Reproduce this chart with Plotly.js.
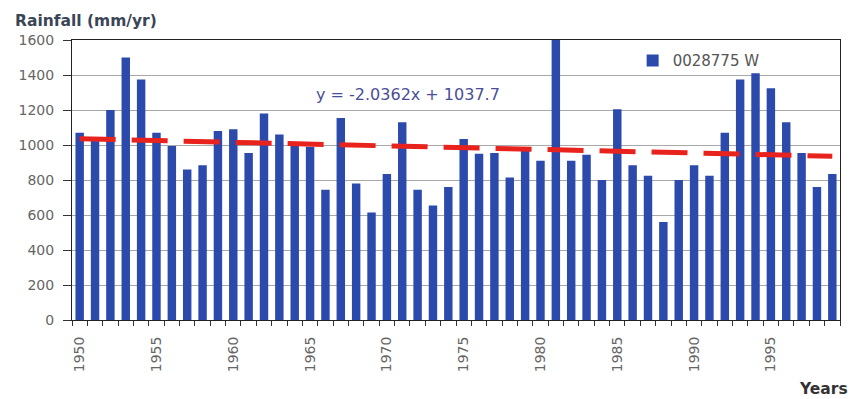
<!DOCTYPE html>
<html>
<head>
<meta charset="utf-8">
<script src="https://cdn.plot.ly/plotly-3.0.1.min.js"></script>
<style>
  html, body { margin: 0; padding: 0; background: #fff; }
  #chart { width: 852px; height: 399px; }
</style>
</head>
<body>
<div id="chart"></div>
<script>
// Annual rainfall at station 0028775 W, 1950-1999 (mm/yr)
const years = [
  1950, 1951, 1952, 1953, 1954, 1955, 1956, 1957, 1958, 1959,
  1960, 1961, 1962, 1963, 1964, 1965, 1966, 1967, 1968, 1969,
  1970, 1971, 1972, 1973, 1974, 1975, 1976, 1977, 1978, 1979,
  1980, 1981, 1982, 1983, 1984, 1985, 1986, 1987, 1988, 1989,
  1990, 1991, 1992, 1993, 1994, 1995, 1996, 1997, 1998, 1999
];
const rainfall = [
  1070, 1030, 1200, 1500, 1375, 1070, 995, 860, 885, 1080,
  1090, 955, 1180, 1060, 1000, 990, 745, 1155, 780, 615,
  835, 1130, 745, 655, 760, 1035, 950, 955, 815, 980,
  910, 1600, 910, 945, 800, 1205, 885, 825, 560, 800,
  885, 825, 1070, 1375, 1410, 1325, 1130, 955, 760, 835
];
const tickYears = [1950, 1955, 1960, 1965, 1970, 1975, 1980, 1985, 1990, 1995];
const tickLabels = ['1950', '1955', '1960', '1965', '1970', '1975', '1980', '1985', '1990', '1995'];

// Linear trend as labelled on the chart: y = slope * n + intercept, n = 1..N
const slope = -2.0362;
const intercept = 1037.7;
const trendX = [years[0], years[years.length - 1]];
const trendY = [slope * 1 + intercept, slope * years.length + intercept];

const FONT = '"DejaVu Sans", Verdana, sans-serif';

const bars = {
  type: 'bar',
  x: years,
  y: rainfall,
  name: '0028775 W',
  marker: { color: '#2b4aac' },
  width: 0.55,
  hoverinfo: 'x+y'
};

const trend = {
  type: 'scatter',
  mode: 'lines',
  x: trendX,
  y: trendY,
  xaxis: 'x2',
  yaxis: 'y',
  line: { color: '#e8221c', width: 5, dash: '36px,16px' },
  showlegend: false,
  hoverinfo: 'skip'
};

const layout = {
  width: 852,
  height: 399,
  margin: { l: 72, r: 12, t: 40, b: 79 },
  paper_bgcolor: '#ffffff',
  plot_bgcolor: '#ffffff',
  font: { family: FONT, size: 14, color: '#666' },
  showlegend: true,
  legend: {
    x: 0.73, y: 0.985, xanchor: 'left', yanchor: 'top',
    bgcolor: 'rgba(0,0,0,0)',
    font: { family: FONT, size: 15, color: '#555' },
    itemwidth: 30
  },
  xaxis: {
    range: [1949.5, 1999.5],
    tickmode: 'array',
    tickvals: tickYears,
    ticktext: tickLabels,
    tickangle: -90,
    ticks: '',
    ticklabelstandoff: 10,
    showgrid: false,
    zeroline: false,
    showline: true,
    mirror: true,
    linecolor: '#222',
    linewidth: 1,
    tickfont: { family: FONT, size: 14, color: '#666' },
    fixedrange: true
  },
  xaxis2: {
    overlaying: 'x',
    matches: 'x',
    side: 'bottom',
    tick0: 1949.5,
    dtick: 1,
    ticks: 'outside',
    ticklen: 5,
    tickcolor: '#333',
    showticklabels: false,
    showgrid: false,
    zeroline: false,
    showline: false
  },
  yaxis: {
    range: [0, 1600],
    dtick: 200,
    ticks: 'outside',
    ticklen: 8,
    tickcolor: '#333',
    ticklabelstandoff: 6,
    showline: true,
    mirror: true,
    linecolor: '#222',
    showgrid: true,
    gridcolor: '#a8a8a8',
    gridwidth: 1,
    zeroline: false,
    tickfont: { family: FONT, size: 14, color: '#666' },
    fixedrange: true
  },
  annotations: [
    {
      text: 'y = -2.0362x + 1037.7',
      xref: 'paper', yref: 'paper',
      x: 0.4375, y: 0.804,
      xanchor: 'center', yanchor: 'middle',
      showarrow: false,
      font: { family: FONT, size: 16, color: '#4a4e96' }
    },
    {
      text: '<b>Rainfall (mm/yr)</b>',
      xref: 'paper', yref: 'paper',
      x: -0.0768, y: 1.068,
      xanchor: 'left', yanchor: 'middle',
      showarrow: false,
      font: { family: FONT, size: 15.5, color: '#3a4656' }
    },
    {
      text: '<b>Years</b>',
      xref: 'paper', yref: 'paper',
      x: 1.013, y: -0.246,
      xanchor: 'right', yanchor: 'middle',
      showarrow: false,
      font: { family: FONT, size: 15.5, color: '#333' }
    }
  ]
};

Plotly.newPlot('chart', [bars, trend], layout, { displayModeBar: false, staticPlot: true });
</script>
</body>
</html>
